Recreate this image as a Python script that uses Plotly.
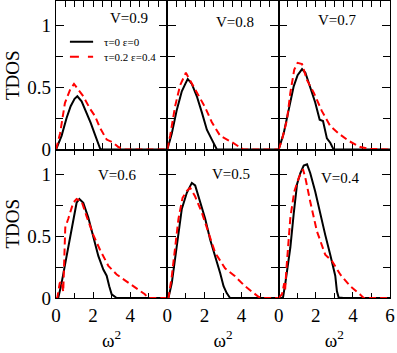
import plotly.graph_objects as go
from plotly.subplots import make_subplots

# panel labels (row-major order)
panel_labels = ["V=0.9", "V=0.8", "V=0.7", "V=0.6", "V=0.5", "V=0.4"]
legend_labels = ["τ=0 ε=0", "τ=0.2 ε=0.4"]

# tau=0 eps=0 (black solid)
w_09_blk = [0, 0.3, 0.57, 0.79, 1.0, 1.15, 1.38, 1.65, 1.87, 2.1, 2.37, 2.45, 6]
d_09_blk = [0, 0.11, 0.255, 0.35, 0.41, 0.43, 0.39, 0.30, 0.215, 0.12, 0.01, 0, 0]
w_08_blk = [0, 0.24, 0.51, 0.78, 1.0, 1.1, 1.32, 1.59, 1.86, 2.13, 2.4, 2.67, 6]
d_08_blk = [0, 0.13, 0.32, 0.47, 0.54, 0.57, 0.53, 0.43, 0.30, 0.16, 0.08, 0, 0]
w_07_blk = [0, 0.27, 0.54, 0.81, 1.02, 1.26, 1.44, 1.7, 1.97, 2.21, 2.39, 2.6, 2.78, 2.96, 6]
d_07_blk = [0, 0.13, 0.32, 0.51, 0.60, 0.65, 0.62, 0.51, 0.38, 0.24, 0.23, 0.09, 0.055, 0, 0]
w_06_blk = [0, 0.12, 0.3, 0.57, 0.84, 1.11, 1.26, 1.47, 1.74, 2.01, 2.28, 2.55, 2.73, 2.87, 3.0, 3.27, 6]
d_06_blk = [0, 0, 0.12, 0.34, 0.58, 0.77, 0.80, 0.77, 0.65, 0.50, 0.34, 0.23, 0.18, 0.095, 0.03, 0, 0]
w_05_blk = [0, 0.06, 0.24, 0.51, 0.78, 1.05, 1.32, 1.5, 1.77, 2.04, 2.31, 2.58, 2.85, 3.03, 3.2, 3.38, 6]
d_05_blk = [0, 0, 0.12, 0.42, 0.72, 0.85, 0.93, 0.91, 0.77, 0.64, 0.47, 0.34, 0.20, 0.095, 0.04, 0, 0]
w_04_blk = [0, 0.23, 0.36, 0.45, 0.63, 0.81, 0.99, 1.17, 1.35, 1.53, 1.7, 1.97, 2.24, 2.51, 2.78,
            2.96, 3.05, 3.14, 3.23, 3.5, 6]
d_04_blk = [0, 0, 0.12, 0.22, 0.41, 0.68, 0.92, 1.01, 1.07, 1.08, 1.01, 0.86, 0.68, 0.51, 0.35,
            0.24, 0.18, 0.054, 0.005, 0, 0]

# tau=0.2 eps=0.4 (red dashed)
w_09_red = [0, 0.22, 0.48, 0.75, 0.97, 1.2, 1.47, 1.83, 2.1, 2.37, 2.73, 3.09, 3.36, 3.7, 6]
d_09_red = [0, 0.13, 0.375, 0.48, 0.53, 0.48, 0.43, 0.33, 0.27, 0.175, 0.08, 0.055, 0.02, 0, 0]
w_08_red = [0, 0.15, 0.42, 0.69, 1.0, 1.23, 1.59, 2.04, 2.4, 2.85, 3.47, 3.92, 4.1, 6]
d_08_red = [0, 0.11, 0.35, 0.52, 0.62, 0.56, 0.46, 0.34, 0.22, 0.11, 0.06, 0.015, 0, 0]
w_07_red = [0, 0.18, 0.45, 0.63, 0.84, 1.02, 1.26, 1.53, 1.89, 2.33, 2.78, 3.23, 3.77, 4.4, 4.94, 5.5, 6]
d_07_red = [0, 0.08, 0.24, 0.46, 0.645, 0.70, 0.69, 0.56, 0.46, 0.31, 0.19, 0.13, 0.07, 0.02, 0.005, 0, 0]
w_06_red = [0, 0.07, 0.2, 0.3, 0.39, 0.43, 0.5, 0.66, 0.93, 1.11, 1.38, 1.65, 2.01, 2.37, 2.82,
            3.27, 3.8, 4.34, 4.79, 4.97, 6]
d_06_red = [0, 0, 0.12, 0.135, 0.05, 0.3, 0.57, 0.64, 0.77, 0.80, 0.78, 0.66, 0.51, 0.39, 0.26,
            0.19, 0.135, 0.08, 0.03, 0, 0]
w_05_red = [0, 0.06, 0.24, 0.42, 0.6, 0.82, 1.05, 1.23, 1.5, 1.86, 2.22, 2.58, 3.11, 3.65, 4.19,
            4.64, 4.91, 5.1, 6]
d_05_red = [0, 0, 0.175, 0.39, 0.64, 0.81, 0.865, 0.89, 0.82, 0.69, 0.53, 0.365, 0.24, 0.175, 0.095,
            0.04, 0.01, 0, 0]
w_04_red = [0, 0.18, 0.3, 0.35, 0.41, 0.54, 0.63, 0.84, 1.08, 1.31, 1.44, 1.7, 2.06, 2.51, 2.87,
            3.32, 3.86, 4.4, 4.58, 6]
d_04_red = [0, 0.03, 0.12, 0.07, 0.22, 0.49, 0.65, 0.86, 0.97, 1.04, 0.97, 0.78, 0.54, 0.35, 0.30,
            0.19, 0.095, 0.027, 0, 0]

black_sets = [(w_09_blk, d_09_blk), (w_08_blk, d_08_blk), (w_07_blk, d_07_blk),
              (w_06_blk, d_06_blk), (w_05_blk, d_05_blk), (w_04_blk, d_04_blk)]
red_sets = [(w_09_red, d_09_red), (w_08_red, d_08_red), (w_07_red, d_07_red),
            (w_06_red, d_06_red), (w_05_red, d_05_red), (w_04_red, d_04_red)]

# where the V label sits in each panel (data coords)
label_x = [3.93, 3.63, 3.17, 3.3, 3.44, 3.35]
label_y = [1.06, 1.03, 1.05, 0.99, 1.0, 0.97]

FONT = "Liberation Serif"
RED_DASH = '7px,4px'

fig = make_subplots(rows=2, cols=3, horizontal_spacing=0, vertical_spacing=0)

for i in range(6):
    r = i // 3 + 1
    c = i % 3 + 1
    fig.add_trace(go.Scatter(x=black_sets[i][0], y=black_sets[i][1], mode='lines',
                             name=legend_labels[0], showlegend=False,
                             line=dict(color='black', width=2)), row=r, col=c)
    fig.add_trace(go.Scatter(x=red_sets[i][0], y=red_sets[i][1], mode='lines',
                             name=legend_labels[1], showlegend=False,
                             line=dict(color='#ff0000', width=2, dash=RED_DASH)), row=r, col=c)
    fig.add_annotation(x=label_x[i], y=label_y[i], text=panel_labels[i], showarrow=False,
                       font=dict(family=FONT, size=15, color='black'), row=r, col=c)

# hand-made legend in the first panel (plotly's legend rows are too tall here)
leg_y = [0.87, 0.75]
leg_style = [dict(color='black', width=2), dict(color='#ff0000', width=2, dash='dash')]
for k in range(2):
    fig.add_shape(type='line', x0=0.75, x1=2.0, y0=leg_y[k], y1=leg_y[k],
                  line=leg_style[k], row=1, col=1)
    fig.add_annotation(x=2.5, y=leg_y[k], text=legend_labels[k], showarrow=False,
                       xanchor='left', font=dict(family=FONT, size=11, color='black'),
                       row=1, col=1)

axis_common = dict(showline=True, linecolor='black', linewidth=1.4, mirror='allticks',
                   ticks='inside', tickcolor='black', tickwidth=1.2, showgrid=False,
                   zeroline=False, layer='below traces', automargin=False,
                   tickfont=dict(family=FONT, size=19, color='black'))

for i in range(6):
    r = i // 3 + 1
    c = i % 3 + 1
    if r == 1:
        fig.update_xaxes(range=[0, 6], tickvals=[0, 2, 4, 6], ticklen=6, showticklabels=False,
                         minor=dict(dtick=0.5, ticks='inside', ticklen=6, tickcolor='black'),
                         row=r, col=c, **axis_common)
    else:
        tv = [0, 2, 4, 6] if c == 3 else [0, 2, 4]
        fig.update_xaxes(range=[0, 6], tickvals=tv, ticklen=6,
                         minor=dict(dtick=1, ticks='inside', ticklen=5, tickcolor='black'),
                         title=dict(text='ω<sup>2</sup>', standoff=8,
                                    font=dict(family=FONT, size=19, color='black')),
                         row=r, col=c, **axis_common)
    fig.update_yaxes(range=[0, 1.2], tickvals=[0, 0.5, 1], ticktext=['0', '0.5', '1'], ticklen=8,
                     showticklabels=(c == 1),
                     minor=dict(dtick=0.25, ticks='inside', ticklen=7, tickcolor='black'),
                     row=r, col=c, **axis_common)
    if c == 1:
        fig.update_yaxes(title=dict(text='TDOS', standoff=2,
                                    font=dict(family=FONT, size=19, color='black')),
                         row=r, col=c)

fig.update_layout(
    width=397, height=353,
    margin=dict(l=56, r=7, t=1, b=55),
    paper_bgcolor='white', plot_bgcolor='white',
    font=dict(family=FONT, color='black'),
    showlegend=False,
)

fig.write_html("out.html", config={'displayModeBar': False},
               post_script="document.body.style.margin='0';")
